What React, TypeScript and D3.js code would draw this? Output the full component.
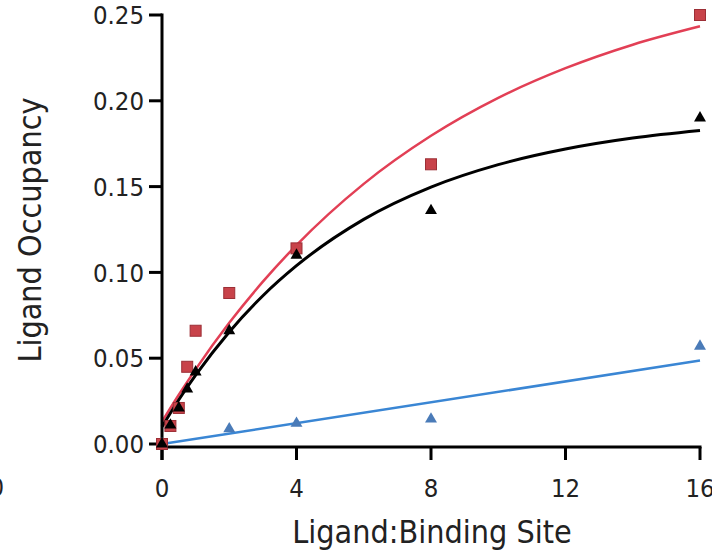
import React from "react";
import * as d3 from "d3";

const xTicks = [0, 4, 8, 12, 16];
const yTicks = [0, 0.05, 0.1, 0.15, 0.2, 0.25];

const redX = [0, 0.25, 0.5, 0.75, 1, 2, 4, 8, 16];
const redY = [0, 0.0105, 0.021, 0.045, 0.066, 0.088, 0.114, 0.163, 0.25];
const blackX = [0, 0.25, 0.5, 0.75, 1, 2, 4, 8, 16];
const blackY = [0, 0.011, 0.021, 0.032, 0.042, 0.066, 0.11, 0.136, 0.19];
const blueX = [0, 2, 4, 8, 16];
const blueY = [0, 0.0088, 0.012, 0.0145, 0.057];

// fitted curves
const fitX = [0, 0.5, 1, 2, 3, 4, 6, 8, 10, 12, 14, 16];
const redFit = [0.013, 0.0287, 0.0435, 0.0706, 0.0946, 0.1159, 0.1516, 0.1796, 0.2017, 0.219, 0.2327, 0.2434];
const blackFit = [0.01, 0.0258, 0.0401, 0.0653, 0.0864, 0.1039, 0.1309, 0.1497, 0.1628, 0.1719, 0.1783, 0.1827];
const blueFitX = [0, 16];
const blueFit = [0, 0.0486];

const FONT = "'DejaVu Sans Condensed', 'DejaVu Sans', sans-serif";

export default function App() {
  const x = d3.scaleLinear().domain([0, 16]).range([162, 700]);
  const y = d3.scaleLinear().domain([0, 0.25]).range([444, 15]);
  const axisY = 447;

  const line = d3
    .line<[number, number]>()
    .x((d) => x(d[0]))
    .y((d) => y(d[1]))
    .curve(d3.curveMonotoneX);

  const zip = (a: number[], b: number[]) => a.map((v, i) => [v, b[i]] as [number, number]);

  const tri = d3.symbol().type(d3.symbolTriangle).size(62)();
  const sq = 11;

  return (
    <svg
      width={712}
      height={553}
      style={{ position: "absolute", left: 0, top: 0, background: "#fff" }}
      fontFamily={FONT}
    >
      {/* partial cut-off label at left edge */}
      <text x={4} y={496} fontSize={25} textAnchor="end" fill="#222">0</text>

      {/* curves */}
      <path d={line(zip(fitX, redFit)) || ""} fill="none" stroke="#e23f55" strokeWidth={2.5} />
      <path d={line(zip(fitX, blackFit)) || ""} fill="none" stroke="#000" strokeWidth={3} />
      <path d={line(zip(blueFitX, blueFit)) || ""} fill="none" stroke="#3a86d4" strokeWidth={2.5} />

      {/* axes */}
      <g stroke="#000" strokeWidth={3} fill="none">
        <line x1={x(0)} x2={x(0)} y1={y(0.25) - 1.5} y2={axisY + 13} />
        <line x1={x(0)} x2={x(16) + 1.5} y1={axisY} y2={axisY} />
        {yTicks.map((t) => (
          <line key={"yt" + t} x1={x(0) - 13} x2={x(0)} y1={y(t)} y2={y(t)} />
        ))}
        {xTicks.map((t) => (
          <line key={"xt" + t} x1={x(t)} x2={x(t)} y1={axisY} y2={axisY + 13} />
        ))}
      </g>

      {/* markers */}
      {blueX.map((v, i) => (
        <path key={"u" + i} d={tri || ""} transform={`translate(${x(v)},${y(blueY[i])})`} fill="#4a7bb8" />
      ))}
      {redX.map((v, i) => (
        <rect
          key={"r" + i}
          x={x(v) - sq / 2}
          y={y(redY[i]) - sq / 2}
          width={sq}
          height={sq}
          fill="#c8434a"
          stroke="#9c2f36"
          strokeWidth={1}
        />
      ))}
      {blackX.map((v, i) => (
        <path key={"b" + i} d={tri || ""} transform={`translate(${x(v)},${y(blackY[i])})`} fill="#000" />
      ))}

      {/* tick labels */}
      <g fontSize={25.5} fill="#222">
        {yTicks.map((t) => (
          <text key={"yl" + t} x={144} y={y(t)} dy="0.36em" textAnchor="end">
            {d3.format(".2f")(t)}
          </text>
        ))}
        {xTicks.map((t) => (
          <text key={"xl" + t} x={x(t)} y={497} textAnchor="middle">
            {t}
          </text>
        ))}
      </g>

      {/* axis titles */}
      <text x={432} y={543} fontSize={32} textAnchor="middle" fill="#222">
        Ligand:Binding Site
      </text>
      <text
        transform={`translate(41,230) rotate(-90)`}
        fontSize={32}
        textAnchor="middle"
        fill="#222"
      >
        Ligand Occupancy
      </text>
    </svg>
  );
}
